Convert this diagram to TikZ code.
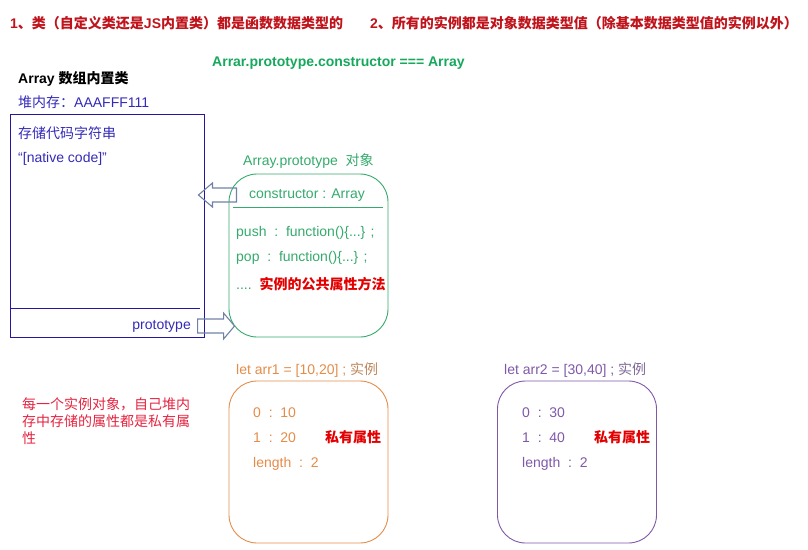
\documentclass[tikz,border=0pt]{standalone}
\usepackage{fontspec}
\setmainfont{Liberation Sans}
\newfontfamily\cjk{Noto Sans CJK SC}
\newcommand{\zh}[1]{{\cjk #1}}
\usetikzlibrary{positioning, calc}

\definecolor{titlered}{RGB}{192,20,28}
\definecolor{codegreen}{RGB}{22,168,92}
\definecolor{protogreen}{RGB}{52,170,108}
\definecolor{heapblue}{RGB}{36,22,160}
\definecolor{heaptext}{RGB}{52,42,184}
\definecolor{hotred}{RGB}{228,0,0}
\definecolor{notered}{RGB}{228,36,64}
\definecolor{arrorange}{RGB}{228,140,72}
\definecolor{arrpurple}{RGB}{128,88,168}
\definecolor{arrowgray}{RGB}{112,130,168}

\begin{document}
\begin{tikzpicture}[x=1pt, y=-1pt,
    every node/.style={inner sep=0pt, font=\fontsize{14}{17}\selectfont},
    txt/.style={anchor=west},
    bold/.style={font=\fontsize{14}{17}\selectfont\bfseries},
    heapbox/.style={draw=heapblue, line width=0.9pt},
    objbox/.style={draw=#1, line width=0.9pt, rounded corners=28pt,
        minimum width=159pt, minimum height=162pt},
    hollowarrow/.style={draw=arrowgray, line width=1.1pt, line join=miter}]
    \useasboundingbox (0,0) rectangle (808,549);

    % headings
    \node[txt, bold, titlered] (rule1) at (10,23) {1\zh{、类（自定义类还是}JS\zh{内置类）都是函数数据类型的}};
    \node[txt, bold, titlered] (rule2) at (370,23) {2\zh{、所有的实例都是对象数据类型值（除基本数据类型值的实例以外）}};
    \node[txt, bold, codegreen] (ctorrule) at (212,63) {Arrar.prototype.constructor === Array};

    % Array class (heap)
    \node[txt, bold] (clsname) at (18,79) {Array \zh{数组内置类}};
    \node[txt, heaptext] (heap) at (18,102) {\zh{堆内存：}AAAFFF111};
    \node[heapbox, minimum width=194pt, minimum height=223pt] (cls) at (107,225.5) {};
    \draw[heapbox] (10,308) -- (200,308);
    \node[txt, heaptext] (codestr) at (18,133) {\zh{存储代码字符串}};
    \node[txt, heaptext] (native) at (18,159) {“[native code]”};
    \node[anchor=east, heaptext] (protolbl) at (191,326) {prototype};

    % Array.prototype
    \node[objbox=protogreen, minimum height=163pt] (proto) at (308.5,255.5) {};
    \node[txt, protogreen] (protoname) at (243,161) {Array.prototype \ \zh{对象}};
    \node[protogreen] (ctor) at (307,195) {constructor : Array};
    \draw[protogreen, line width=0.9pt] (233,207) -- (383,207);
    \node[txt, protogreen] (push) at (236,233) {push \ :\ \ function()\{...\} ;};
    \node[txt, protogreen] (pop) at (236,258) {pop \ :\ \ function()\{...\} ;};
    \node[txt, protogreen] (more) at (236,284) {....\ \ \textcolor{hotred}{\bfseries\zh{实例的公共属性方法}}};

    % hollow arrows
    \coordinate (protoin) at ($(proto.west |- protolbl)+(6,0)$);
    \coordinate (ctorout) at ($(cls.east |- ctor)+(-6,0)$);
    \draw[hollowarrow] (protoin) -- ++(-11,-13) -- ++(0,6) -- ++(-26,0) -- ++(0,14) -- ++(26,0) -- ++(0,6) -- cycle;
    \draw[hollowarrow] (ctorout) -- ++(14,-12) -- ++(0,5) -- ++(24,0) -- ++(0,14) -- ++(-24,0) -- ++(0,5) -- cycle;

    % instances
    \node[objbox=arrorange] (arr1) at (308.5,462) {};
    \node[txt, arrorange] (arr1lbl) at (236,370) {let arr1 = [10,20] ; \textcolor{arrorange!60!gray}{\zh{实例}}};
    \node[txt, arrorange] (a1zero) at (253,413) {0 \ :\ \ 10};
    \node[txt, arrorange] (a1one) at (253,438) {1 \ :\ \ 20};
    \node[txt, arrorange] (a1len) at (253,464) {length \ :\ \ 2};
    \node[txt, bold, hotred] (a1priv) at (325,437) {\zh{私有属性}};

    \node[objbox=arrpurple] (arr2) at (577,462) {};
    \node[txt, arrpurple] (arr2lbl) at (504,370) {let arr2 = [30,40] ; \textcolor{arrpurple!60!gray}{\zh{实例}}};
    \node[txt, arrpurple] (a2zero) at (522,413) {0 \ :\ \ 30};
    \node[txt, arrpurple] (a2one) at (522,438) {1 \ :\ \ 40};
    \node[txt, arrpurple] (a2len) at (522,464) {length \ :\ \ 2};
    \node[txt, bold, hotred] (a2priv) at (594,437) {\zh{私有属性}};

    \node[anchor=north west, align=left, notered] (note) at (22,397)
        {\zh{每一个实例对象，自己堆内}\\\zh{存中存储的属性都是私有属}\\\zh{性}};
\end{tikzpicture}
\end{document}
